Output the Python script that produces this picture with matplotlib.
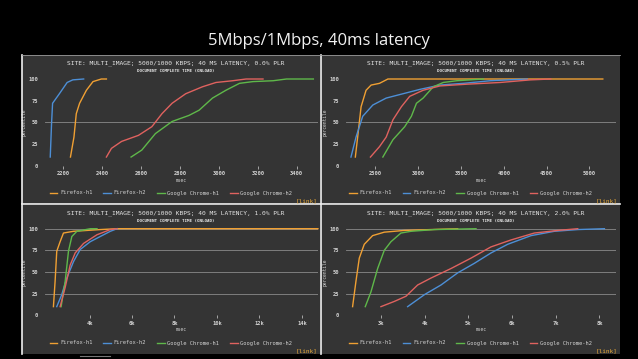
import matplotlib
matplotlib.use('Agg')
import matplotlib.pyplot as plt
from matplotlib.lines import Line2D

# percentile curves (x = msec, y = percentile)

# top left: 0.0% PLR
tl_ff1_x = [2236, 2254, 2266, 2283, 2318, 2352, 2395, 2421]
tl_ff1_y = [10, 33, 60, 72, 87, 97, 100, 100]
tl_ff2_x = [2132, 2139, 2144, 2179, 2219, 2248, 2304]
tl_ff2_y = [10, 50, 72, 83, 96, 99, 100]
tl_ch1_x = [2548, 2603, 2673, 2759, 2846, 2898, 2967, 3036, 3106, 3175, 3279, 3348, 3486]
tl_ch1_y = [10, 18, 37, 51, 58, 64, 78, 87, 95, 97, 98, 100, 100]
tl_ch2_x = [2421, 2447, 2499, 2586, 2655, 2707, 2759, 2829, 2915, 2985, 3071, 3140, 3227]
tl_ch2_y = [10, 20, 28, 35, 45, 60, 72, 83, 91, 96, 98, 100, 100]

# top right: 0.5% PLR
tr_ff1_x = [2269, 2296, 2336, 2394, 2453, 2551, 2649, 5156]
tr_ff1_y = [10, 33, 68, 87, 93, 95, 100, 100]
tr_ff2_x = [2218, 2277, 2355, 2473, 2629, 2825, 3021, 3256, 3530, 3843, 4274]
tr_ff2_y = [10, 33, 57, 70, 78, 83, 88, 93, 95, 98, 100]
tr_ch1_x = [2590, 2708, 2845, 2923, 2982, 3060, 3178, 3295, 3452, 3765]
tr_ch1_y = [10, 30, 45, 57, 72, 78, 91, 96, 98, 100]
tr_ch2_x = [2445, 2551, 2629, 2708, 2806, 2903, 3060, 3256, 3569, 3961, 4314, 4549]
tr_ch2_y = [10, 22, 33, 53, 68, 80, 87, 92, 94, 96, 99, 100]

# bottom left: 1.0% PLR
bl_ff1_x = [2297, 2375, 2454, 2612, 2770, 3243, 4505, 5293, 14757]
bl_ff1_y = [10, 39, 74, 85, 95, 97, 99, 100, 100]
bl_ff2_x = [2454, 2691, 2927, 3243, 3558, 4032, 4505, 4978, 5293]
bl_ff2_y = [10, 24, 43, 62, 76, 85, 91, 97, 100]
bl_ch1_x = [2660, 2849, 3006, 3164, 3401, 4032, 4350]
bl_ch1_y = [10, 39, 74, 91, 97, 100, 100]
bl_ch2_x = [2612, 2849, 3085, 3322, 3716, 4347, 4978, 5293]
bl_ch2_y = [10, 32, 58, 72, 83, 93, 99, 100]

# bottom right: 2.0% PLR
br_ff1_x = [2351, 2427, 2504, 2618, 2809, 3076, 3534, 4145, 4756]
br_ff1_y = [10, 39, 66, 82, 92, 96, 98, 99, 100]
br_ff2_x = [3611, 4000, 4374, 4756, 5137, 5519, 5901, 6435, 6969, 7504, 8115]
br_ff2_y = [10, 24, 35, 49, 60, 72, 82, 92, 97, 99, 100]
br_ch1_x = [2641, 2771, 2924, 3076, 3229, 3458, 3687, 4221, 5176]
br_ch1_y = [10, 27, 54, 75, 85, 95, 97, 99, 100]
br_ch2_x = [3000, 3305, 3573, 3840, 4145, 4603, 5061, 5519, 5977, 6511, 7046, 7504]
br_ch2_y = [10, 16, 22, 35, 43, 54, 66, 79, 87, 95, 98, 100]

series_names = ['Firefox-h1', 'Firefox-h2', 'Google Chrome-h1', 'Google Chrome-h2']
series_colors = ['#f0a033', '#4d8fd6', '#5fb84a', '#e0625f']

plr_labels = ['0.0%', '0.5%', '1.0%', '2.0%']
tl_ticks = [2200, 2400, 2600, 2800, 3000, 3200, 3400]
tr_ticks = [2500, 3000, 3500, 4000, 4500, 5000]
bl_ticks = [4000, 6000, 8000, 10000, 12000, 14000]
bl_ticklabels = ['4k', '6k', '8k', '10k', '12k', '14k']
br_ticks = [3000, 4000, 5000, 6000, 7000, 8000]
br_ticklabels = ['3k', '4k', '5k', '6k', '7k', '8k']

W, H = 638, 359
BG = '#343434'
TXT = '#d2d2d2'
MONO = 'DejaVu Sans Mono'

fig = plt.figure(figsize=(W / 100, H / 100), dpi=100, facecolor='black')


def fx(x):
    return x / W


def fy(y):
    return 1 - y / H


def px_axes(l, t, r, b, **kw):
    return fig.add_axes([fx(l), fy(b), fx(r - l), (b - t) / H], **kw)


fig.text(0.5, fy(41), '5Mbps/1Mbps, 40ms latency', ha='center', va='center',
         color='#f2f2f2', fontsize=12, family='Open Sans')

panels = [
    # panel box, plot box, xlim, ticks, tick labels, data, full grid
    ((22, 55, 320, 204), (45, 79, 318, 165.7), (2105, 3510), tl_ticks, None,
     [(tl_ff1_x, tl_ff1_y), (tl_ff2_x, tl_ff2_y), (tl_ch1_x, tl_ch1_y), (tl_ch2_x, tl_ch2_y)], False),
    ((321, 55, 620, 204), (346, 79, 616, 165.7), (2160, 5310), tr_ticks, None,
     [(tr_ff1_x, tr_ff1_y), (tr_ff2_x, tr_ff2_y), (tr_ch1_x, tr_ch1_y), (tr_ch2_x, tr_ch2_y)], False),
    ((22, 205, 320, 354), (45, 228.7, 318, 315.3), (1900, 14760), bl_ticks, bl_ticklabels,
     [(bl_ff1_x, bl_ff1_y), (bl_ff2_x, bl_ff2_y), (bl_ch1_x, bl_ch1_y), (bl_ch2_x, bl_ch2_y)], True),
    ((321, 205, 620, 354), (346, 228.7, 616, 315.3), (2200, 8380), br_ticks, br_ticklabels,
     [(br_ff1_x, br_ff1_y), (br_ff2_x, br_ff2_y), (br_ch1_x, br_ch1_y), (br_ch2_x, br_ch2_y)], True),
]

for i, (pbox, abox, xlim, ticks, tlabels, data, full_grid) in enumerate(panels):
    bg = px_axes(*pbox)
    bg.set_facecolor(BG)
    bg.set_xticks([])
    bg.set_yticks([])
    for s in bg.spines.values():
        s.set_visible(False)

    ax = px_axes(*abox)
    ax.set_facecolor('none')
    for s in ax.spines.values():
        s.set_visible(False)
    grid_levels = [0, 25, 50, 75, 100] if full_grid else [50]
    for g in grid_levels:
        ax.axhline(g, color='#8a8a8a', lw=0.6, zorder=0)
    for (xs, ys), c, name in zip(data, series_colors, series_names):
        ax.plot(xs, ys, color=c, lw=1.0, label=name, clip_on=False)
    ax.set_xlim(*xlim)
    ax.set_ylim(0, 100)
    ax.set_yticks([0, 25, 50, 75, 100])
    ax.set_yticklabels(['0', '25', '50', '75', '100'])
    ax.set_xticks(ticks)
    if tlabels:
        ax.set_xticklabels(tlabels)
    ax.tick_params(colors=TXT, labelsize=3.9, length=2, width=0.5, pad=2)
    ax.tick_params(axis='y', length=0, pad=5)
    for lab in ax.get_xticklabels() + ax.get_yticklabels():
        lab.set_family(MONO)
        lab.set_weight('bold')
    ax.set_xlabel('msec', color=TXT, fontsize=3.3, family=MONO, labelpad=1)
    ax.set_ylabel('percentile', color=TXT, fontsize=3.3, family=MONO, labelpad=1.5)

    pl, pt, pr, pb = pbox
    cx = (pl + pr) / 2 + 5
    fig.text(fx(cx), fy(pt + 8), 'SITE: MULTI_IMAGE; 5000/1000 KBPS; 40 MS LATENCY, %s PLR' % plr_labels[i],
             ha='center', va='center', color='#e6e6e6', fontsize=4.5, family=MONO)
    fig.text(fx(cx), fy(pt + 16), 'DOCUMENT COMPLETE TIME (ONLOAD)', ha='center', va='center',
             color='#e6e6e6', fontsize=3.1, family=MONO, weight='bold')
    ax.legend(loc='center', bbox_to_anchor=(fx(cx - 5), fy(pb - 11)), bbox_transform=fig.transFigure,
              ncol=4, frameon=False, labelcolor=TXT, handlelength=1.4,
              handletextpad=0.5, columnspacing=2.0, prop={'family': MONO, 'size': 3.9})
    fig.text(fx(pr - 3), fy(pb - 3), '[link]', ha='right', va='center', color='#e8a93a',
             fontsize=4.3, family=MONO)

# panel borders
for seg in [((22, 22), (55, 354)), ((320.5, 320.5), (55, 354)), ((22, 620), (204.5, 204.5))]:
    fig.add_artist(Line2D([fx(v) for v in seg[0]], [fy(v) for v in seg[1]],
                          color='#f0f0f0', lw=1.2))
fig.add_artist(Line2D([fx(22), fx(620)], [fy(55), fy(55)], color='#9a9a9a', lw=0.6))
fig.add_artist(Line2D([fx(80), fx(110)], [fy(355.5), fy(355.5)], color='#777777', lw=0.8))

fig.savefig('out.png', dpi=100, facecolor='black')
